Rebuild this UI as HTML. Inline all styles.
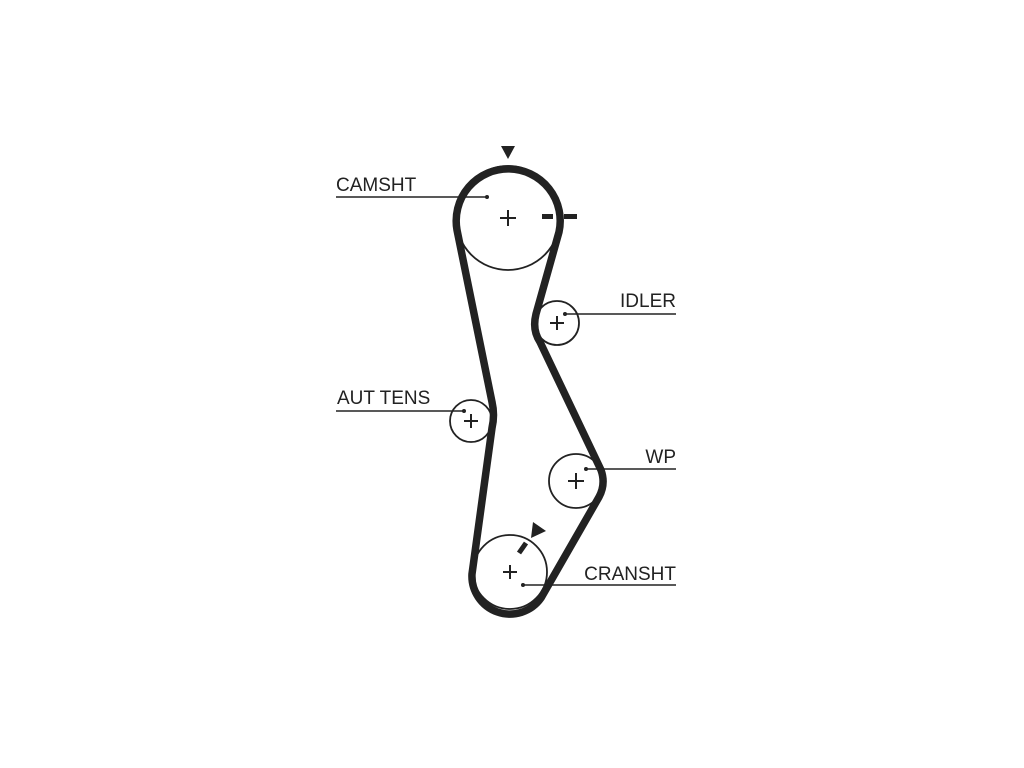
<!DOCTYPE html>
<html><head><meta charset="utf-8"><style>
html,body{margin:0;padding:0;background:#fff;}
svg{display:block;}
text{font-family:"Liberation Sans",Arial,sans-serif;font-size:19px;fill:#222;}
</style></head><body>
<svg width="1024" height="768" viewBox="0 0 1024 768" xmlns="http://www.w3.org/2000/svg">
<g fill="none" stroke="#222" stroke-width="1.8">
<circle cx="508" cy="218" r="52"/>
<circle cx="557" cy="323" r="22"/>
<circle cx="471" cy="421" r="21"/>
<circle cx="576" cy="481" r="27"/>
<circle cx="510" cy="572" r="37"/>
</g>
<path d="M457,230 A52,52 0 1 1 559,232 L536,314 Q532,330 540,342 L601,470 Q606,484 599,497 L541,598 A38,38 0 0 1 472,574 L492,428 Q495,415 492,402 Z" fill="none" stroke="#222" stroke-width="7.5" stroke-linejoin="round"/>
<g stroke="#222" stroke-width="2">
<path d="M500,218h16M508,210v16"/>
<path d="M550,323h14M557,316v14"/>
<path d="M464,421h14M471,414v14"/>
<path d="M568,481h16M576,473v16"/>
<path d="M503,572h14M510,565v14"/>
</g>
<g stroke="#222" stroke-width="1.6">
<line x1="336" y1="197" x2="487" y2="197"/>
<line x1="565" y1="314" x2="676" y2="314"/>
<line x1="336" y1="411" x2="464" y2="411"/>
<line x1="586" y1="469" x2="676" y2="469"/>
<line x1="523" y1="585" x2="676" y2="585"/>
</g>
<g fill="#222">
<circle cx="487" cy="197" r="2"/><circle cx="565" cy="314" r="2"/><circle cx="464" cy="411" r="2"/><circle cx="586" cy="469" r="2"/><circle cx="523" cy="585" r="2"/>
<polygon points="501,146 515,146 508,159"/>
<rect x="542" y="214" width="11" height="5"/><rect x="564" y="214" width="13" height="5"/>
<polygon points="533,522 546,531 531,538"/>
</g>
<line x1="519" y1="553" x2="526" y2="543" stroke="#222" stroke-width="5"/>
<text x="336" y="191">CAMSHT</text>
<text x="676" y="307" text-anchor="end">IDLER</text>
<text x="337" y="404">AUT TENS</text>
<text x="676" y="463" text-anchor="end">WP</text>
<text x="676" y="580" text-anchor="end">CRANSHT</text>
</svg>
</body></html>
